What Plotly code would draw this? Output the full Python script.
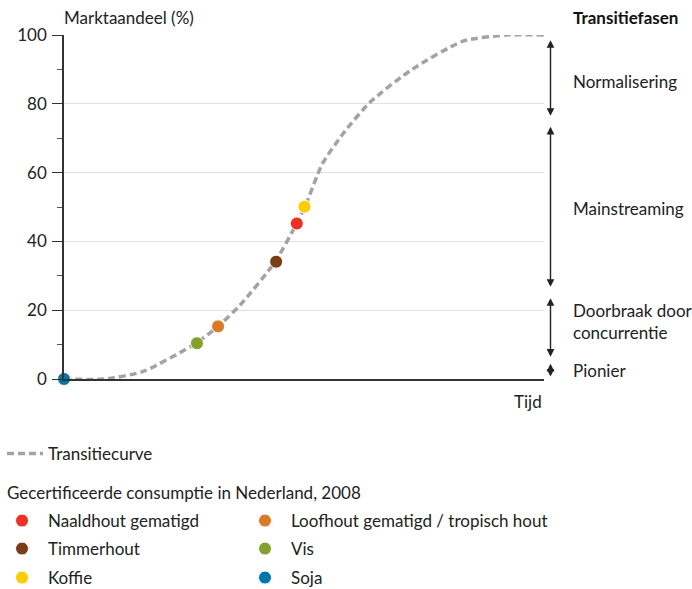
import plotly.graph_objects as go

# Transition curve (time in arbitrary units 0..100, market share %)
curve_x = [0, 8.5, 16.5, 27.5, 32.1, 36.7, 44.0, 48.4, 50.2, 53.8, 58.5, 63.8, 72.5, 83.1, 92.0, 100]
curve_y = [0, 0, 2.2, 10.4, 15.3, 21.5, 34.1, 45.0, 50.0, 62.5, 72.0, 80.5, 90.0, 98.2, 100, 100]

# Certified consumption in NL, 2008
products = ["Naaldhout gematigd", "Loofhout gematigd / tropisch hout", "Timmerhout", "Vis", "Koffie", "Soja"]
prod_x = [48.5, 32.1, 44.2, 27.7, 50.1, 0]
prod_y = [45.2, 15.3, 34.1, 10.4, 50.1, 0]
prod_colors = ["#ee3124", "#d97a27", "#7a3e16", "#86a02e", "#ffcc00", "#0077a6"]

# Transition phases (arrow spans on the share axis)
phases = ["Normalisering", "Mainstreaming", "Doorbraak door<br>concurrentie", "Pionier"]
phase_top = [98.5, 73.3, 23.5, 4.4]
phase_bottom = [76.2, 26.5, 6.2, 0.4]
phase_label_y = [86.5, 49.7, 16.6, 2.6]

FONT = "Lato"
FS = 17
TXT = "#222222"

W, H = 692, 589
L, R, T, B = 64, 148, 35, 210
pw, ph = W - L - R, H - T - B

def px_x(p):
    return (p - L) / pw

def px_y(p):
    return 1 - (p - T) / ph

fig = go.Figure()
fig.add_trace(go.Scatter(
    x=curve_x, y=curve_y, mode="lines", name="Transitiecurve",
    line=dict(color="#a3a3a3", width=3.5, dash="7px,4px", shape="spline", smoothing=0.6),
    cliponaxis=False, legend="legend", hoverinfo="skip"))

# legend placement: two columns, three rows
leg_col_px = [-4, 239, -4, 239, -4, 239]
leg_row_px = [521, 521, 549, 549, 578, 578]

leg_common = dict(orientation="v", xanchor="left", yanchor="middle", bgcolor="rgba(0,0,0,0)",
                  font=dict(size=FS, color=TXT, family=FONT),
                  itemclick=False, itemdoubleclick=False)
legends = {}
for i, (name, x, y, c) in enumerate(zip(products, prod_x, prod_y, prod_colors)):
    lg = "legend%d" % (i + 2)
    fig.add_trace(go.Scatter(
        x=[x], y=[y], mode="markers", name=name,
        marker=dict(color=c, size=13, line=dict(color="white", width=1)),
        cliponaxis=False, legend=lg))
    legends[lg] = dict(x=px_x(leg_col_px[i]), y=px_y(leg_row_px[i]), itemwidth=42, **leg_common)

annotations = [
    dict(text="Marktaandeel (%)", xref="paper", yref="paper", x=px_x(62), y=px_y(18),
         xanchor="left", yanchor="middle", showarrow=False, font=dict(size=FS, color=TXT)),
    dict(text="Tijd", xref="paper", yref="paper", x=1.0, y=px_y(402),
         xanchor="right", yanchor="middle", showarrow=False, font=dict(size=FS, color=TXT)),
    dict(text="<b>Transitiefasen</b>", xref="paper", yref="paper", x=px_x(571), y=px_y(18),
         xanchor="left", yanchor="middle", showarrow=False, font=dict(size=FS, color="#111")),
    dict(text="Gecertificeerde consumptie in Nederland, 2008", xref="paper", yref="paper",
         x=px_x(5), y=px_y(492), xanchor="left", yanchor="middle", showarrow=False,
         font=dict(size=FS, color=TXT)),
]
arrow_x = px_x(550.5)
for name, top, bot, ly in zip(phases, phase_top, phase_bottom, phase_label_y):
    annotations.append(dict(
        text=" ", font=dict(size=1), borderpad=0,
        x=arrow_x, y=top, ax=0, ay=bot, xref="paper", yref="y", axref="pixel", ayref="y",
        showarrow=True, arrowside="end+start", arrowhead=2, arrowsize=1.1, arrowwidth=1.4,
        arrowcolor="#222", standoff=0, startstandoff=0))
    annotations.append(dict(
        text=name, xref="paper", yref="y", x=px_x(571), y=ly, xanchor="left", yanchor="middle",
        align="left", showarrow=False, font=dict(size=FS, color=TXT)))

fig.update_layout(
    width=W, height=H,
    margin=dict(l=L, r=R, t=T, b=B, autoexpand=False),
    paper_bgcolor="white", plot_bgcolor="white",
    font=dict(family=FONT, size=FS, color=TXT),
    showlegend=True,
    legend=dict(x=px_x(2), y=px_y(454), itemwidth=36, **leg_common),
    **legends,
    xaxis=dict(range=[0, 100], showgrid=False, zeroline=False, showticklabels=False,
               ticks="", showline=True, linecolor="#333", linewidth=1.5, fixedrange=True),
    yaxis=dict(range=[0, 100], dtick=20, tick0=0, showgrid=True, gridcolor="#e2e2e2", gridwidth=1,
               zeroline=False, showline=True, linecolor="#333", linewidth=1.5,
               ticks="outside", ticklen=10, tickwidth=1, tickcolor="#333",
               ticklabelstandoff=2,
               tickfont=dict(size=FS, color=TXT),
               minor=dict(dtick=10, tick0=0, ticks="outside", ticklen=5, tickcolor="#555",
                          showgrid=False),
               fixedrange=True),
    annotations=annotations,
)

fig.write_html("out.html", config={"displayModeBar": False},
               post_script="document.body.style.margin='0';")
